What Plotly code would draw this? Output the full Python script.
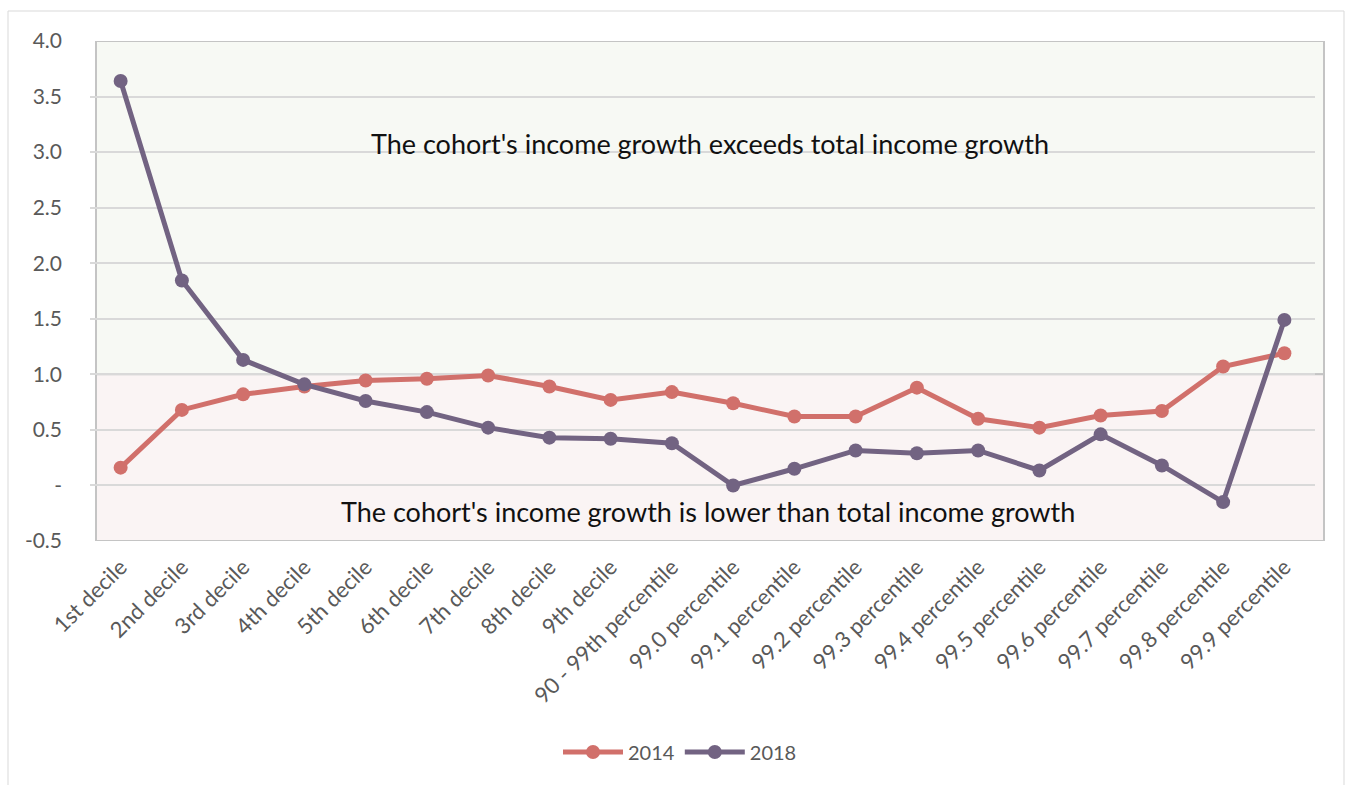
import plotly.graph_objects as go

categories = ["1st decile", "2nd decile", "3rd decile", "4th decile", "5th decile",
              "6th decile", "7th decile", "8th decile", "9th decile",
              "90 - 99th percentile", "99.0 percentile", "99.1 percentile",
              "99.2 percentile", "99.3 percentile", "99.4 percentile",
              "99.5 percentile", "99.6 percentile", "99.7 percentile",
              "99.8 percentile", "99.9 percentile"]

values_2014 = [0.16, 0.68, 0.82, 0.89, 0.945, 0.96, 0.99, 0.89, 0.77, 0.84,
               0.74, 0.62, 0.62, 0.88, 0.60, 0.52, 0.63, 0.67, 1.07, 1.19]
values_2018 = [3.64, 1.845, 1.13, 0.91, 0.76, 0.66, 0.52, 0.43, 0.42, 0.38,
               0.0, 0.15, 0.315, 0.29, 0.315, 0.135, 0.46, 0.18, -0.15, 1.49]

y_ticks = [-0.5, 0, 0.5, 1.0, 1.5, 2.0, 2.5, 3.0, 3.5, 4.0]
y_tick_labels = ["-0.5", "-", "0.5", "1.0", "1.5", "2.0", "2.5", "3.0", "3.5", "4.0"]

upper_text = "The cohort's income growth exceeds total income growth"
lower_text = "The cohort's income growth is lower than total income growth"

fig = go.Figure()
fig.add_trace(go.Scatter(x=categories, y=values_2014, name="2014", mode="lines+markers",
                         line=dict(color="#D1706B", width=5),
                         marker=dict(color="#D1706B", size=14)))
fig.add_trace(go.Scatter(x=categories, y=values_2018, name="2018", mode="lines+markers",
                         line=dict(color="#726382", width=5),
                         marker=dict(color="#726382", size=14)))

n = len(categories)
L, R, T, B = 90, 34, 41, 244
W, H = 1349, 785
pw = W - L - R
ph = H - T - B

def px_x(p):
    return (p - L) / pw

def px_y(p):
    return (H - B - p) / ph

fig.update_layout(
    width=W, height=H,
    margin=dict(l=L, r=R, t=T, b=B, autoexpand=False),
    paper_bgcolor="white", plot_bgcolor="rgba(0,0,0,0)",
    font=dict(family="Lato", color="#595959"),
    showlegend=True,
    legend=dict(orientation="h", x=px_x(680), xanchor="center", y=px_y(752), yanchor="middle",
                font=dict(size=20, color="#595959"), itemwidth=60),
    xaxis=dict(range=[-0.5, n - 0.5], showgrid=False, zeroline=False, showline=False,
               tickangle=-45, tickfont=dict(size=22, color="#595959"), ticks="",
               ticklabelstandoff=8, automargin=False),
    yaxis=dict(range=[-0.5, 4.0], tickvals=y_ticks, ticktext=y_tick_labels,
               showgrid=True, gridcolor="#D9D9D9", gridwidth=1.5, zeroline=False,
               showline=False, tickfont=dict(size=21, color="#595959"), ticks="",
               ticklabelstandoff=27, automargin=False),
)

# shaded regions
fig.add_shape(type="rect", xref="paper", yref="y", x0=px_x(96), x1=px_x(1324), y0=1.0, y1=4.0,
              fillcolor="#F7F9F4", line=dict(color="#C4C4C4", width=2), layer="below")
fig.add_shape(type="rect", xref="paper", yref="y", x0=px_x(96), x1=px_x(1324), y0=-0.5, y1=1.0,
              fillcolor="#FAF4F4", line=dict(color="#C4C4C4", width=2), layer="below")
# outer chart border
fig.add_shape(type="rect", xref="paper", yref="paper", x0=px_x(8), x1=px_x(1344),
              y0=px_y(795), y1=px_y(11),
              fillcolor="rgba(0,0,0,0)", line=dict(color="#D9D9D9", width=1), layer="below")

fig.add_annotation(x=px_x(710), xref="paper", y=px_y(143), yref="paper", text=upper_text,
                   xanchor="center", yanchor="middle",
                   showarrow=False, font=dict(family="Lato", size=27, color="#111111"))
fig.add_annotation(x=px_x(708), xref="paper", y=px_y(511), yref="paper", text=lower_text,
                   xanchor="center", yanchor="middle",
                   showarrow=False, font=dict(family="Lato", size=27, color="#111111"))

fig.write_html("out.html", config={"displayModeBar": False},
               post_script="document.body.style.margin='0';")
